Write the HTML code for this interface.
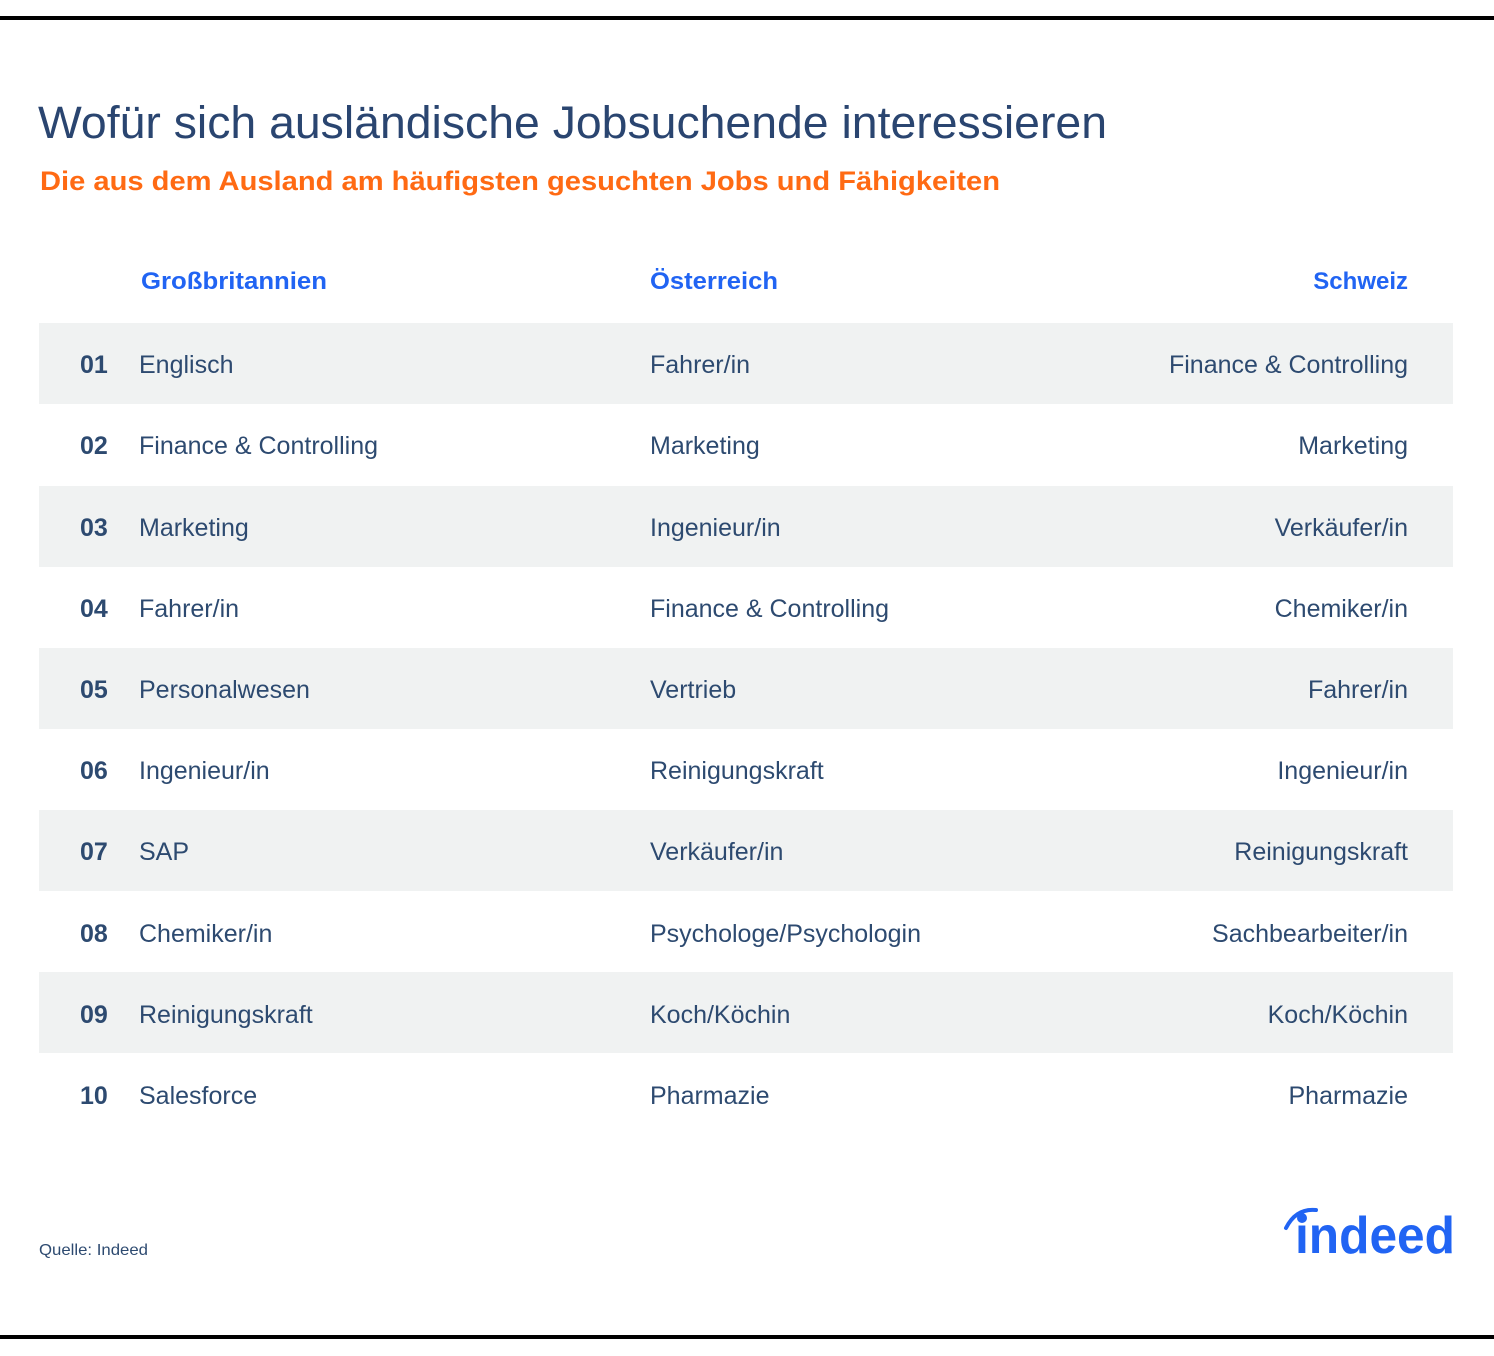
<!DOCTYPE html>
<html><head><meta charset="utf-8"><style>
html,body{margin:0;padding:0;background:#fff}
svg{display:block}
text{font-family:"Liberation Sans",sans-serif}
</style></head><body>
<svg width="1494" height="1356" viewBox="0 0 1494 1356" xmlns="http://www.w3.org/2000/svg">
<rect x="0" y="16" width="1494" height="4" fill="#000"/>
<rect x="0" y="1335" width="1494" height="4" fill="#000"/>
<text x="38" y="138" font-size="45" fill="#2a4570" textLength="1069" lengthAdjust="spacingAndGlyphs">Wofür sich ausländische Jobsuchende interessieren</text>
<text x="40" y="190" font-size="27" font-weight="bold" fill="#ff6a13" textLength="960" lengthAdjust="spacingAndGlyphs">Die aus dem Ausland am häufigsten gesuchten Jobs und Fähigkeiten</text>
<g font-size="24" font-weight="bold" fill="#2164f3">
<text x="141" y="289" textLength="186" lengthAdjust="spacingAndGlyphs">Großbritannien</text>
<text x="650" y="289" textLength="128" lengthAdjust="spacingAndGlyphs">Österreich</text>
<text x="1408" y="289" text-anchor="end">Schweiz</text>
</g>
<g fill="#f0f2f2">
<rect x="39" y="323" width="1414" height="81"/>
<rect x="39" y="486" width="1414" height="81"/>
<rect x="39" y="648" width="1414" height="81"/>
<rect x="39" y="810" width="1414" height="81"/>
<rect x="39" y="972" width="1414" height="81"/>
</g>
<g font-size="25" fill="#2d4a70">
<g font-weight="bold">
<text x="80" y="373">01</text><text x="80" y="454">02</text><text x="80" y="536">03</text><text x="80" y="617">04</text><text x="80" y="698">05</text><text x="80" y="779">06</text><text x="80" y="860">07</text><text x="80" y="942">08</text><text x="80" y="1023">09</text><text x="80" y="1104">10</text>
</g>
<text x="139" y="373">Englisch</text>
<text x="139" y="454">Finance &amp; Controlling</text>
<text x="139" y="536">Marketing</text>
<text x="139" y="617">Fahrer/in</text>
<text x="139" y="698">Personalwesen</text>
<text x="139" y="779">Ingenieur/in</text>
<text x="139" y="860">SAP</text>
<text x="139" y="942">Chemiker/in</text>
<text x="139" y="1023">Reinigungskraft</text>
<text x="139" y="1104">Salesforce</text>
<text x="650" y="373">Fahrer/in</text>
<text x="650" y="454">Marketing</text>
<text x="650" y="536">Ingenieur/in</text>
<text x="650" y="617">Finance &amp; Controlling</text>
<text x="650" y="698">Vertrieb</text>
<text x="650" y="779">Reinigungskraft</text>
<text x="650" y="860">Verkäufer/in</text>
<text x="650" y="942">Psychologe/Psychologin</text>
<text x="650" y="1023">Koch/Köchin</text>
<text x="650" y="1104">Pharmazie</text>
<g text-anchor="end">
<text x="1408" y="373">Finance &amp; Controlling</text>
<text x="1408" y="454">Marketing</text>
<text x="1408" y="536">Verkäufer/in</text>
<text x="1408" y="617">Chemiker/in</text>
<text x="1408" y="698">Fahrer/in</text>
<text x="1408" y="779">Ingenieur/in</text>
<text x="1408" y="860">Reinigungskraft</text>
<text x="1408" y="942">Sachbearbeiter/in</text>
<text x="1408" y="1023">Koch/Köchin</text>
<text x="1408" y="1104">Pharmazie</text>
</g>
</g>
<text x="39" y="1255" font-size="16" fill="#2d4a70" textLength="109" lengthAdjust="spacingAndGlyphs">Quelle: Indeed</text>
<path d="M1286 1228 Q1296 1208 1316 1210" stroke="#2164f3" stroke-width="4" fill="none" stroke-linecap="round"/>
<text x="1295" y="1253" font-size="52" font-weight="bold" fill="#2164f3" textLength="160" lengthAdjust="spacingAndGlyphs">ındeed</text>
<circle cx="1302" cy="1218" r="5" fill="#2164f3"/>
</svg>
</body></html>
